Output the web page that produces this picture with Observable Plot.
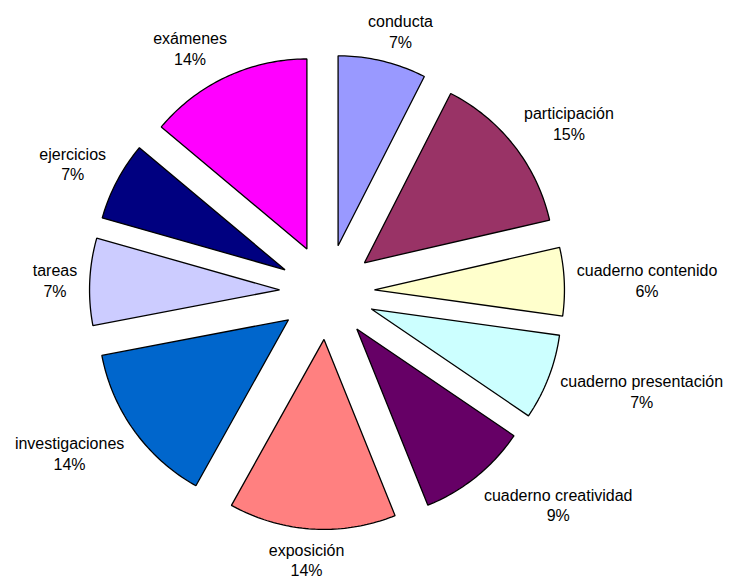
<!DOCTYPE html>
<html>
<head>
<meta charset="utf-8">
<script src="https://cdn.jsdelivr.net/npm/d3@7"></script>
<script src="https://cdn.jsdelivr.net/npm/@observablehq/plot@0.6"></script>
<style>
  html, body { margin: 0; padding: 0; background: #ffffff; }
  #chart svg { display: block; }
</style>
</head>
<body>
<div id="chart"></div>
<script>
// ---- Data ----
const categories = [
  "conducta", "participación", "cuaderno contenido", "cuaderno presentación",
  "cuaderno creatividad", "exposición", "investigaciones", "tareas",
  "ejercicios", "exámenes"
];
// share of the circle each slice occupies (as drawn)
const shares = [7.5, 13.9, 5.8, 7.3, 9.4, 14.2, 13.9, 7.4, 6.7, 13.9];
// percentages printed in the data labels
const percentLabels = ["7%", "15%", "6%", "7%", "9%", "14%", "14%", "7%", "7%", "14%"];
const sliceColors = [
  "#9999FF", "#993366", "#FFFFCC", "#CCFFFF", "#660066",
  "#FF8080", "#0066CC", "#CCCCFF", "#000080", "#FF00FF"
];

// ---- Layout constants ----
const W = 730, H = 579;
const cx = 326.5, cy = 291.5, R = 190;
const explode = 0.25;          // fraction of radius each slice is pulled out
const labelRadius = 250 / R;   // where label boxes start
const fontSize = 16, lineHeight = 1.3;
const fontFamily = "'Liberation Sans', Arial, sans-serif";

const arcs = d3.pie().sort(null).value(d => d)(shares);

// slice outlines in unit-circle coordinates (y grows downward)
const slicePts = [];
arcs.forEach((a, i) => {
  const m = (a.startAngle + a.endAngle) / 2;
  const ox = explode * Math.sin(m), oy = -explode * Math.cos(m);
  slicePts.push({name: categories[i], color: sliceColors[i], x: ox, y: oy});
  const n = Math.max(8, Math.ceil((a.endAngle - a.startAngle) * 180 / Math.PI));
  for (let k = 0; k <= n; k++) {
    const t = a.startAngle + (a.endAngle - a.startAngle) * k / n;
    slicePts.push({name: categories[i], color: sliceColors[i], x: ox + Math.sin(t), y: oy - Math.cos(t)});
  }
});

// label placement
const ctx = document.createElement("canvas").getContext("2d");
ctx.font = `${fontSize}px ${fontFamily}`;
const clamp = v => Math.max(-1, Math.min(1, v));
const labels = arcs.map((a, i) => {
  const m = (a.startAngle + a.endAngle) / 2;
  const w = Math.max(ctx.measureText(categories[i]).width, ctx.measureText(percentLabels[i]).width);
  const halfW = w / 2, halfH = fontSize * lineHeight - 3;
  const sx = clamp(2 * Math.sin(m)), sy = clamp(-1.4 * Math.cos(m));
  return {
    text: categories[i] + "\n" + percentLabels[i],
    x: labelRadius * Math.sin(m) + sx * halfW / R,
    y: -labelRadius * Math.cos(m) + sy * halfH / R
  };
});

const chart = Plot.plot({
  width: W,
  height: H,
  margin: 0,
  style: {background: "#ffffff", fontFamily},
  x: {domain: [-1, 1], range: [cx - R, cx + R], axis: null},
  y: {domain: [-1, 1], range: [cy - R, cy + R], axis: null},
  color: {type: "identity"},
  marks: [
    Plot.line(slicePts, {
      x: "x", y: "y", z: "name",
      fill: "color",
      stroke: "#000000",
      strokeWidth: 1.3,
      strokeLinejoin: "miter",
      curve: "linear-closed"
    }),
    Plot.text(labels, {
      x: "x", y: "y", text: "text",
      fontSize, lineHeight,
      fill: "#000000",
      textAnchor: "middle"
    })
  ]
});
document.getElementById("chart").appendChild(chart);
</script>
</body>
</html>
